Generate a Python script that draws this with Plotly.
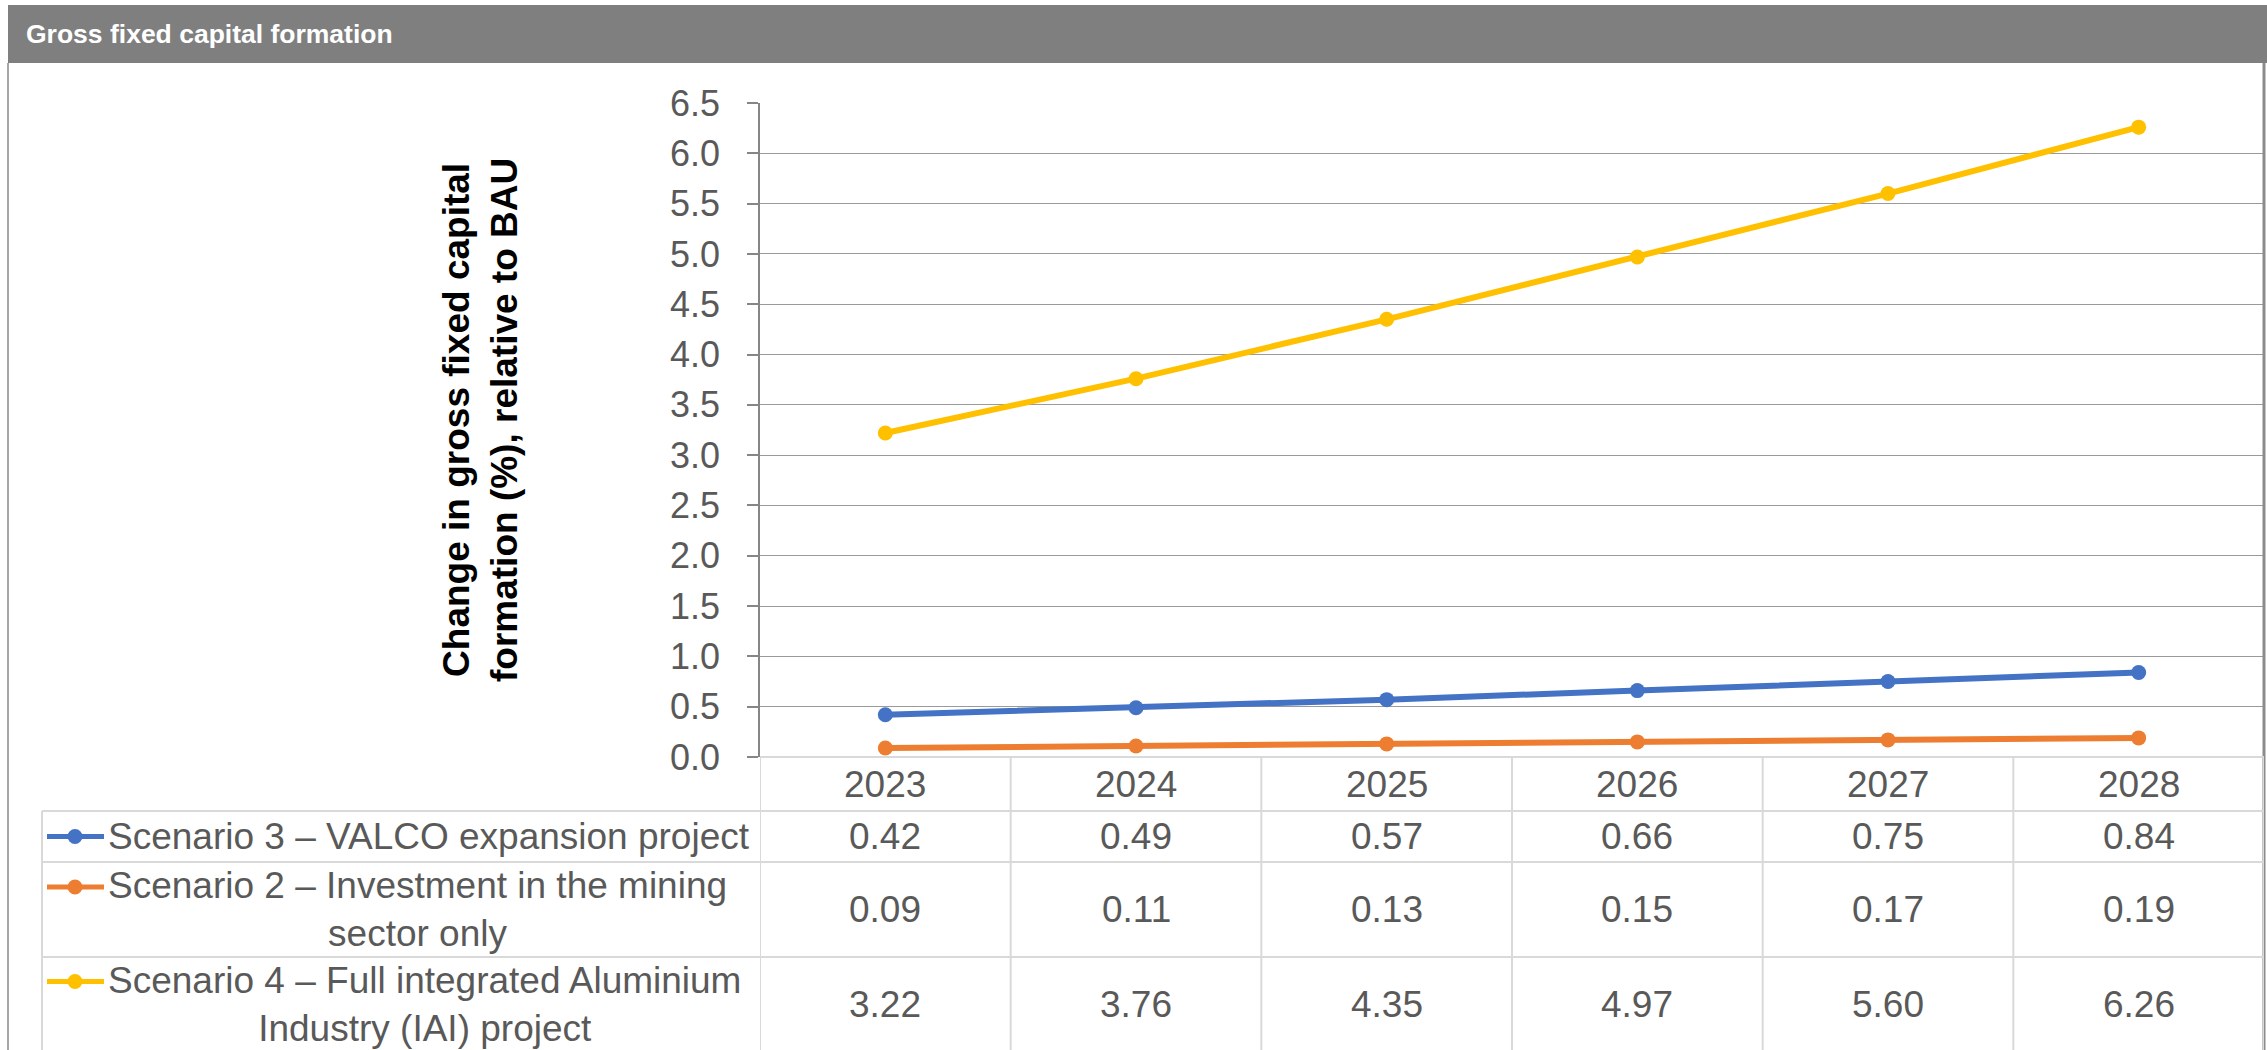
import plotly.graph_objects as go

# ---- data ----
years = ["2023", "2024", "2025", "2026", "2027", "2028"]
series_names = [
    "Scenario 3 – VALCO expansion project",
    "Scenario 2 – Investment in the mining<br>sector only",
    "Scenario 4 – Full integrated Aluminium<br>Industry (IAI) project",
]
scenario3 = [0.42, 0.49, 0.57, 0.66, 0.75, 0.84]
scenario2 = [0.09, 0.11, 0.13, 0.15, 0.17, 0.19]
scenario4 = [3.22, 3.76, 4.35, 4.97, 5.60, 6.26]
series_values = [scenario3, scenario2, scenario4]
series_colors = ["#4472C4", "#ED7D31", "#FFC000"]

y_title = "Change in gross fixed capital<br>formation (%), relative to BAU"
panel_title = "Gross fixed capital formation"

# ---- page geometry (pixels) ----
W, H = 2267, 1050
FONT = "Liberation Sans, Arial, sans-serif"
TXT = "#595959"
GRID = "#d9d9d9"
TABLE_FS = 37

plot_left, plot_right = 760, 2264
plot_top, plot_bottom = 103, 757
row_lines = [757, 811, 862, 957, 1052]   # header, row1, row2, row3 boundaries
legend_left = 42
label_left = 106


def px(x):
    return x / W


def py(y):
    return 1 - y / H


fig = go.Figure()

for name, vals, col in zip(series_names, series_values, series_colors):
    fig.add_trace(go.Scatter(
        x=years, y=vals, mode="lines+markers", name=name.replace("<br>", " "),
        line=dict(color=col, width=6), marker=dict(color=col, size=15),
        showlegend=False, hoverinfo="x+y",
    ))

shapes = []
annotations = []

# title bar
shapes.append(dict(type="rect", xref="paper", yref="paper",
                   x0=px(8), x1=1, y0=py(63), y1=py(5),
                   fillcolor="#7f7f7f", line=dict(width=0), layer="below"))
annotations.append(dict(xref="paper", yref="paper", x=px(24), y=py(34),
                        xanchor="left", yanchor="middle", showarrow=False,
                        text="<b>%s</b>" % panel_title,
                        font=dict(family=FONT, size=26.5, color="white")))

# outer frame
shapes.append(dict(type="line", xref="paper", yref="paper",
                   x0=px(8), x1=px(8), y0=py(63), y1=py(1050),
                   line=dict(color="#a6a6a6", width=2)))
shapes.append(dict(type="line", xref="paper", yref="paper",
                   x0=px(2264), x1=px(2264), y0=py(63), y1=py(1050),
                   line=dict(color="#8c8c8c", width=3)))

# data table: horizontal rules
shapes.append(dict(type="line", xref="paper", yref="paper",
                   x0=px(plot_left), x1=px(plot_right),
                   y0=py(row_lines[0]), y1=py(row_lines[0]),
                   line=dict(color=GRID, width=2)))
for yl in row_lines[1:]:
    shapes.append(dict(type="line", xref="paper", yref="paper",
                       x0=px(legend_left), x1=px(plot_right),
                       y0=py(yl), y1=py(yl),
                       line=dict(color=GRID, width=2)))
# data table: vertical rules at category boundaries
for i in range(len(years) + 1):
    shapes.append(dict(type="line", xref="x", yref="paper",
                       x0=i - 0.5, x1=i - 0.5,
                       y0=py(row_lines[0]), y1=py(row_lines[-1]),
                       line=dict(color=GRID, width=2)))
shapes.append(dict(type="line", xref="paper", yref="paper",
                   x0=px(legend_left), x1=px(legend_left),
                   y0=py(row_lines[1]), y1=py(row_lines[-1]),
                   line=dict(color=GRID, width=2)))

# header row: years
hdr_y = (row_lines[0] + row_lines[1]) / 2
for i, yr in enumerate(years):
    annotations.append(dict(xref="x", yref="paper", x=i, y=py(hdr_y),
                            xanchor="center", yanchor="middle", showarrow=False,
                            text=yr, font=dict(family=FONT, size=TABLE_FS, color=TXT)))

# body rows: legend key, series label, values
line_h = 45
for r, (name, vals, col) in enumerate(zip(series_names, series_values, series_colors)):
    top, bot = row_lines[r + 1], row_lines[r + 2]
    if r == 2:
        bot = 1051
    cy = (top + bot) / 2
    n_lines = name.count("<br>") + 1
    first_y = cy - (n_lines - 1) * line_h / 2
    annotations.append(dict(xref="paper", yref="paper", x=px(label_left), y=py(cy),
                            xanchor="left", yanchor="middle", showarrow=False,
                            align="center", text=name,
                            font=dict(family=FONT, size=TABLE_FS, color=TXT)))
    shapes.append(dict(type="line", xref="paper", yref="paper",
                       x0=px(47), x1=px(104), y0=py(first_y), y1=py(first_y),
                       line=dict(color=col, width=5)))
    shapes.append(dict(type="circle", xref="paper", yref="paper",
                       x0=px(75 - 7.5), x1=px(75 + 7.5),
                       y0=py(first_y + 7.5), y1=py(first_y - 7.5),
                       fillcolor=col, line=dict(color=col, width=0)))
    for i, v in enumerate(vals):
        annotations.append(dict(xref="x", yref="paper", x=i, y=py(cy),
                                xanchor="center", yanchor="middle", showarrow=False,
                                text="%.2f" % v,
                                font=dict(family=FONT, size=TABLE_FS, color=TXT)))

# y-axis title
annotations.append(dict(xref="paper", yref="paper", x=px(480), y=py(420),
                        xanchor="center", yanchor="middle", showarrow=False,
                        textangle=-90, align="center", text="<b>%s</b>" % y_title,
                        font=dict(family=FONT, size=37, color="black")))

fig.update_layout(
    width=W, height=H,
    margin=dict(l=0, r=0, t=0, b=0, autoexpand=False),
    paper_bgcolor="white", plot_bgcolor="white",
    shapes=shapes, annotations=annotations,
    xaxis=dict(domain=[px(plot_left), px(plot_right)], type="category",
               range=[-0.5, len(years) - 0.5], showticklabels=False,
               showgrid=False, zeroline=False, showline=False, ticks="",
               automargin=False),
    yaxis=dict(domain=[py(plot_bottom), py(plot_top)], range=[0, 6.5], dtick=0.5,
               tick0=0, tickformat=".1f", showgrid=True, gridcolor="#9a9a9a",
               gridwidth=1.3, zeroline=False, showline=True, linecolor="#868686",
               linewidth=1.5, ticks="outside", ticklen=11, tickcolor="#868686",
               tickwidth=1.5, ticklabelstandoff=20, automargin=False,
               tickfont=dict(family=FONT, size=36, color=TXT)),
    showlegend=False,
)

fig.write_html("out.html")
